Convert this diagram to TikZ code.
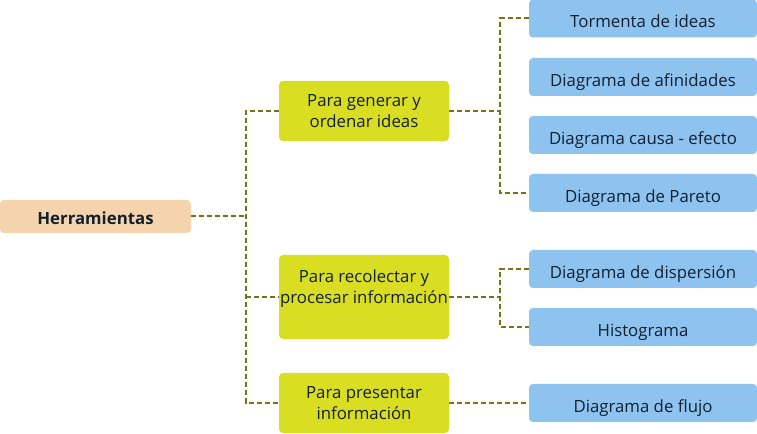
\documentclass[tikz,border=0pt]{standalone}
\usepackage{fontspec}
\setmainfont{Open Sans}
\usetikzlibrary{calc}
\definecolor{peach}{HTML}{F5D4AD}
\definecolor{lima}{HTML}{D9DE22}
\definecolor{cielo}{HTML}{8EC3F0}
\definecolor{oliva}{HTML}{717515}
\definecolor{tinta}{HTML}{12202E}

\begin{document}
\begin{tikzpicture}[x=0.75pt,y=-0.75pt,
    caja/.style={rounded corners=3pt,inner sep=0pt,text=tinta,align=center,
      font=\fontsize{12.6}{15.75}\selectfont},
    raiz/.style={caja,fill=peach,minimum width=143.25pt,minimum height=24.75pt,
      text height=13.7pt,text depth=2pt,
      font=\fontsize{12.6}{15.75}\selectfont\bfseries},
    grupo/.style={caja,fill=lima,minimum width=127.5pt,minimum height=45pt},
    hoja/.style={caja,fill=cielo,minimum width=171pt,minimum height=28.5pt,
      text height=16pt,text depth=2pt},
    rama/.style={draw=oliva,line width=1.5pt,dash pattern=on 3.75pt off 2.25pt}]
  \useasboundingbox (0,0) rectangle (757,434);
  % raiz
  \node[raiz](h)at(95.5,216.5){Herramientas};
  % grupos
  \node[grupo](g)at(364,111){Para generar y\\ordenar ideas};
  \node[grupo,minimum height=63pt,
    label={[caja,yshift=6pt]center:Para recolectar y\\procesar información}](r)at(364,297){};
  \node[grupo](p)at(364,403){Para presentar\\información};
  % hojas
  \node[hoja](t1)at(643,18.5){Tormenta de ideas};
  \node[hoja](t2)at(643,77){Diagrama de afinidades};
  \node[hoja](t3)at(643,135){Diagrama causa - efecto};
  \node[hoja](t4)at(643,193){Diagrama de Pareto};
  \node[hoja](t5)at(643,269){Diagrama de dispersión};
  \node[hoja](t6)at(643,327){Histograma};
  \node[hoja](t7)at(643,403){Diagrama de flujo};
  % ramas
  \coordinate (j1) at (246,216.5);
  \coordinate (j2) at (500,111);
  \coordinate (j3) at (500,297);
  \draw[rama] (h.east) -- (j1);
  \draw[rama] (g.west) -| (j1) |- (p.west);
  \draw[rama] (j1 |- r.west) -- (r.west);
  \draw[rama] (g.east) -- (j2);
  \draw[rama] (t1.west) -| (j2) |- (t4.west);
  \draw[rama] (r.east) -- (j3);
  \draw[rama] (t5.west) -| (j3) |- (t6.west);
  \draw[rama] (p.east) -- (t7.west);
\end{tikzpicture}
\end{document}
